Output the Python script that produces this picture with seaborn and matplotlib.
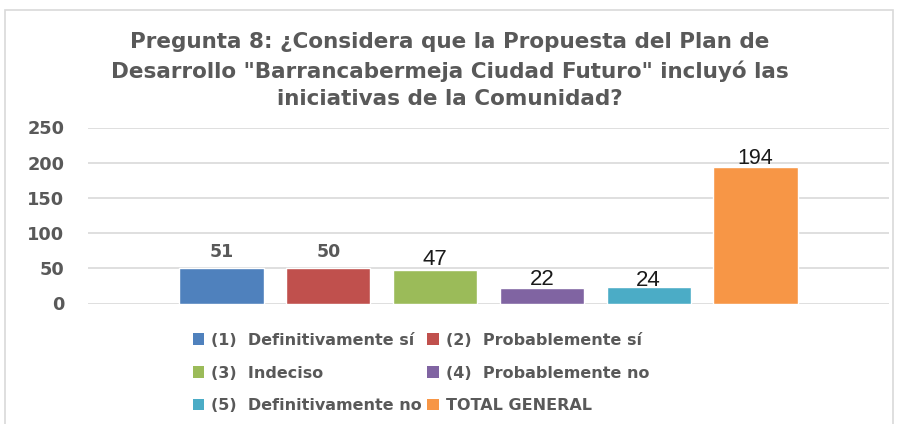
import matplotlib
matplotlib.use("Agg")
import matplotlib.pyplot as plt
import seaborn as sns
import pandas as pd
from matplotlib.patches import Rectangle, Patch

categories = ["(1)  Definitivamente sí", "(2)  Probablemente sí", "(3)  Indeciso",
              "(4)  Probablemente no", "(5)  Definitivamente no", "TOTAL GENERAL"]
values = [51, 50, 47, 22, 24, 194]
colors = ["#4F81BD", "#C0504D", "#9BBB59", "#8064A2", "#4BACC6", "#F79646"]
yticks = [0, 50, 100, 150, 200, 250]
title = ('Pregunta 8: ¿Considera que la Propuesta del Plan de\n'
         'Desarrollo "Barrancabermeja Ciudad Futuro" incluyó las\n'
         'iniciativas de la Comunidad?')

sns.set_theme(style="white")
plt.rcParams['font.family'] = ['DejaVu Sans']

GRAY = "#595959"
fig = plt.figure(figsize=(9.01, 4.24), dpi=100)
W, H = 901, 424
ax = fig.add_axes([88 / W, (H - 303.5) / H, (889 - 88) / W, (303.5 - 127.5) / H])

df = pd.DataFrame({"cat": categories, "val": values})
sns.barplot(data=df, x="cat", y="val", hue="cat", palette=colors, dodge=False,
            width=0.79, ax=ax, legend=False, saturation=1)

ax.set_xlim(-1.25, 6.25)
ax.set_ylim(0, 250)
ax.set_yticks(yticks)
ax.set_yticklabels([str(t) for t in yticks], fontsize=12.8, fontweight="bold", color=GRAY)
ax.set_xticks([])
ax.set_xlabel("")
ax.set_ylabel("")
for s in ax.spines.values():
    s.set_visible(False)
ax.yaxis.grid(True, color="#D9D9D9", linewidth=1.2)
ax.set_axisbelow(True)
ax.tick_params(axis="y", length=0, pad=17)

# data labels
styles = [
    dict(fontsize=12.5, fontweight="bold", color=GRAY, family=['DejaVu Sans']),
    dict(fontsize=12.5, fontweight="bold", color=GRAY, family=['DejaVu Sans']),
    dict(fontsize=16, color="#1a1a1a", family=['Liberation Sans']),
    dict(fontsize=16, color="#1a1a1a", family=['Liberation Sans']),
    dict(fontsize=16, color="#1a1a1a", family=['Liberation Sans']),
    dict(fontsize=15.5, color="#1a1a1a", family=['Liberation Sans']),
]
offsets = [7.8, 8.3, 3.9, 2.2, 0.6, 2.0]
for i, (v, st, off) in enumerate(zip(values, styles, offsets)):
    ax.annotate(str(v), (i, v), xytext=(0, off), textcoords="offset points",
                ha="center", va="baseline", **st)

fig.text(450 / W, (H - 70.5) / H, title, ha="center", va="center", fontsize=15.5,
         fontweight="bold", color=GRAY, linespacing=1.45)

order = [0, 2, 4, 1, 3, 5]
handles = [Patch(facecolor=colors[i], edgecolor="none") for i in order]
labels = [categories[i] for i in order]
leg = fig.legend(handles, labels, ncol=2, loc="center",
                 bbox_to_anchor=(421 / W, (H - 373) / H), frameon=False,
                 prop=dict(family='DejaVu Sans', weight='bold', size=11.5),
                 handlelength=0.7, handleheight=0.7, handletextpad=0.45,
                 columnspacing=0.35, labelspacing=1.12, borderpad=0)
for t in leg.get_texts():
    t.set_color(GRAY)

fig.patches.append(Rectangle((5 / W, -0.01), (893 - 5) / W, (H - 10) / H + 0.01,
                             transform=fig.transFigure, fill=False,
                             edgecolor="#D9D9D9", linewidth=1.2))

fig.savefig("out.png", dpi=100, facecolor="white")
